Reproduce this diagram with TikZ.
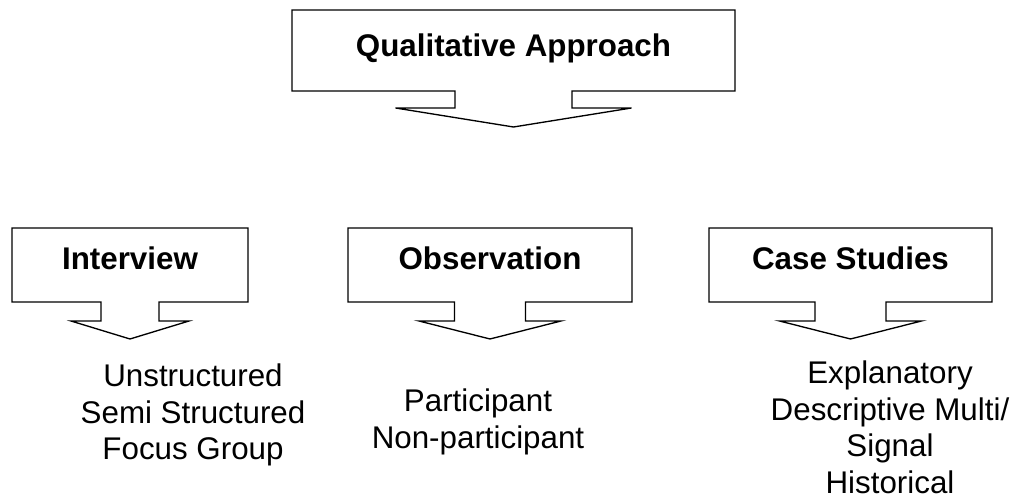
\documentclass[tikz,border=0pt]{standalone}
\usepackage{fontspec}
\setmainfont{Liberation Sans}
\usetikzlibrary{calc}

\tikzset{
  outline/.style={draw=black, line width=1pt, line join=miter},
  headbox/.style={rectangle, outer sep=0pt, inner sep=0pt, align=center,
    font=\fontsize{23.5}{27.5}\selectfont\bfseries, text height=16.8pt},
  methodbox/.style={headbox, minimum height=55.5pt, text depth=10.5pt},
  listtext/.style={align=center, inner sep=0pt, anchor=base,
    font=\fontsize{23.5}{27.5}\selectfont}
}

% box outline with a stem and arrow head below: node, stem half, head half, stem length, head length
\newcommand{\dropoutline}[5]{%
  \draw[outline] (#1.south west) -- (#1.north west) -- (#1.north east) -- (#1.south east)
    -- ($(#1.south)+(#2,0)$) -- ++(0,-#4) -- ++(#3-#2,0) -- ++(-#3,-#5)
    -- ++(-#3,#5) -- ++(#3-#2,0) -- ++(0,#4) -- cycle;
}

\begin{document}
\begin{tikzpicture}[x=0.75pt, y=0.75pt]
  \useasboundingbox (0,0) rectangle (1017,499);

  % boxes
  \node[headbox, minimum width=332.25pt, minimum height=60.75pt, text depth=8.25pt] (qual) at (513.5,448.5) {Qualitative Approach};
  \node[methodbox, minimum width=177pt] (interview) at (130,234) {Interview};
  \node[methodbox, minimum width=213pt] (observation) at (490,234) {Observation};
  \node[methodbox, minimum width=212.25pt] (casestudy) at (850.5,234) {Case Studies};

  \dropoutline{qual}{58.5}{118}{17}{19}
  \dropoutline{interview}{29}{59}{19}{18}
  \dropoutline{observation}{35.5}{71}{19}{18}
  \dropoutline{casestudy}{35.5}{71}{19}{18}

  % types under each method (base = last line)
  \node[listtext] (interviewlist) at (193,39) {Unstructured\\Semi Structured\\Focus Group};
  \node[listtext] (observationlist) at (478,50.6) {Participant\\Non-participant};
  \node[listtext] (caselist) at (890,5.5) {Explanatory\\Descriptive Multi/\\Signal\\Historical};
\end{tikzpicture}
\end{document}
